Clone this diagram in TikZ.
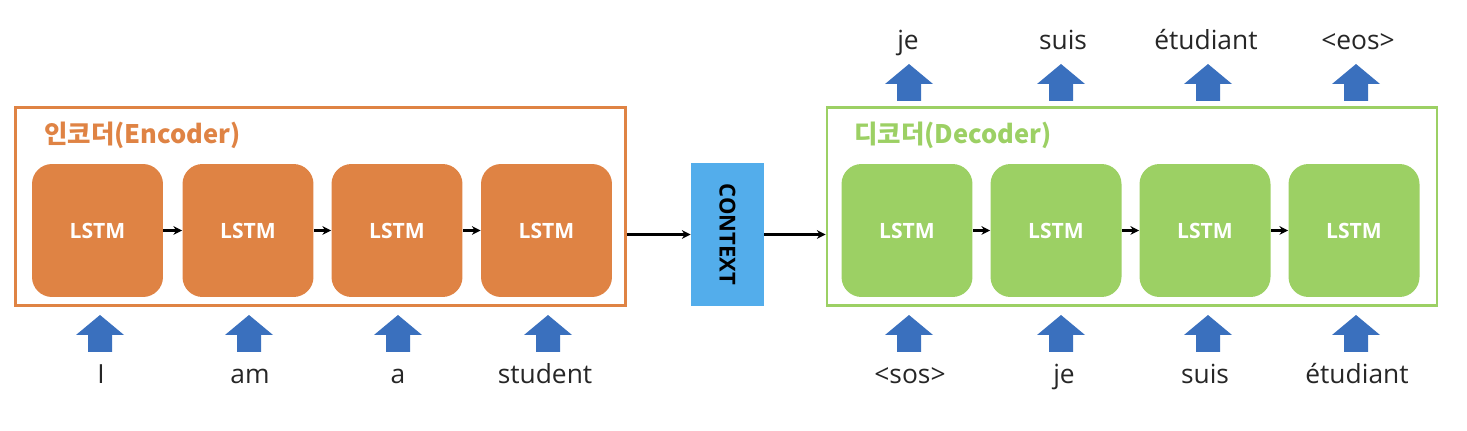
\documentclass[tikz,border=0pt]{standalone}
\usepackage{fontspec}
\setmainfont{Open Sans}
\newfontfamily\kofont{Noto Sans CJK KR}
\usetikzlibrary{arrows.meta,positioning}
\definecolor{enc}{HTML}{DF8344}
\definecolor{dec}{HTML}{9CD064}
\definecolor{ctx}{HTML}{53ADEB}
\definecolor{blk}{HTML}{3A70BE}
\definecolor{word}{HTML}{262626}
\tikzset{
  frame/.style={draw, line width=1.6pt, minimum width=12.2cm, minimum height=3.96cm, inner sep=0},
  cell/.style={rounded corners=0.4cm, minimum width=2.62cm, minimum height=2.66cm, inner sep=0,
    text=white, font=\fontsize{12}{14}\selectfont\bfseries},
  title/.style={anchor=west, inner sep=0, font=\kofont\fontsize{14.5}{17}\selectfont\bfseries},
  link/.style={-{Stealth[length=5pt,width=5pt]}, line width=1.3pt, black},
  lab/.style={anchor=base, inner sep=0, text=word, font=\fontsize{15}{18}\selectfont},
  uparr/.pic={\fill[blk] (0,0)--(24,20)--(12,20)--(12,37)--(-12,37)--(-12,20)--(-24,20)--cycle;}
}
\begin{document}
\begin{tikzpicture}[x=0.02cm,y=-0.02cm]
  \useasboundingbox (0,0) rectangle (1467,431);
  % encoder
  \node[frame, draw=enc] (enc) at (320.5,206.5) {};
  \node[title, text=enc] (enctitle) at (44,135) {인코더(Encoder)};
  \node[cell, fill=enc] (e1) at (97.5,230.5) {LSTM};
  \node[cell, fill=enc] (e2) at (248,230.5) {LSTM};
  \node[cell, fill=enc] (e3) at (397,230.5) {LSTM};
  \node[cell, fill=enc] (e4) at (546.5,230.5) {LSTM};
  \draw[link] (e1) -- (e2);
  \draw[link] (e2) -- (e3);
  \draw[link] (e3) -- (e4);
  % context
  \node[fill=ctx, minimum width=1.46cm, minimum height=2.86cm, inner sep=0] (ctx) at (727.5,234.5) {};
  \node[rotate=-90, font=\fontsize{12.5}{14}\selectfont\bfseries] (ctxtext) at (ctx.center) {CONTEXT};
  % decoder
  \node[frame, draw=dec] (dec) at (1132,206.5) {};
  \node[title, text=dec] (dectitle) at (854,135) {디코더(Decoder)};
  \node[cell, fill=dec] (d1) at (907,230.5) {LSTM};
  \node[cell, fill=dec] (d2) at (1056,230.5) {LSTM};
  \node[cell, fill=dec] (d3) at (1205,230.5) {LSTM};
  \node[cell, fill=dec] (d4) at (1354,230.5) {LSTM};
  \draw[link] (d1) -- (d2);
  \draw[link] (d2) -- (d3);
  \draw[link] (d3) -- (d4);
  \draw[link] (enc.east |- ctx.west) -- (ctx.west);
  \draw[link] (ctx.east) -- (ctx.east -| dec.west);
  % inputs
  \pic (ia1) at (100,315) {uparr};
  \pic (ia2) at (249,315) {uparr};
  \pic (ia3) at (398,315) {uparr};
  \pic (ia4) at (548,315) {uparr};
  \pic (ib1) at (909,315) {uparr};
  \pic (ib2) at (1061,315) {uparr};
  \pic (ib3) at (1208,315) {uparr};
  \pic (ib4) at (1356,315) {uparr};
  \node[lab] (w1) at (101,384) {I};
  \node[lab] (w2) at (250,384) {am};
  \node[lab] (w3) at (398,384) {a};
  \node[lab] (w4) at (545,384) {student};
  \node[lab] (v1) at (910,384) {<sos>};
  \node[lab] (v2) at (1064,384) {je};
  \node[lab] (v3) at (1205,384) {suis};
  \node[lab] (v4) at (1357,384) {étudiant};
  % outputs
  \pic (oa1) at (909,64) {uparr};
  \pic (oa2) at (1061,64) {uparr};
  \pic (oa3) at (1208,64) {uparr};
  \pic (oa4) at (1356,64) {uparr};
  \node[lab] (o1) at (908,50) {je};
  \node[lab] (o2) at (1063,50) {suis};
  \node[lab] (o3) at (1206,50) {étudiant};
  \node[lab] (o4) at (1358,50) {<eos>};
\end{tikzpicture}
\end{document}
